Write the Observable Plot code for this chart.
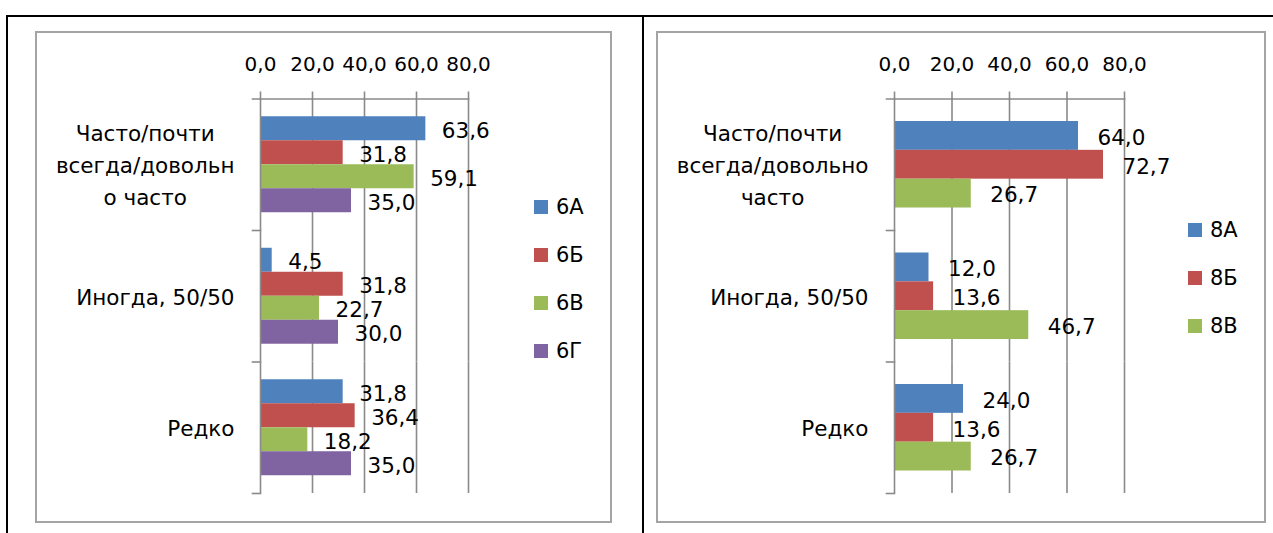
<!DOCTYPE html>
<html><head><meta charset="utf-8">
<script src="https://cdn.jsdelivr.net/npm/d3@7"></script>
<script src="https://cdn.jsdelivr.net/npm/@observablehq/plot@0.6"></script>
<style>
body{margin:0;background:#fff;width:1273px;height:533px;position:relative;overflow:hidden;font-family:"DejaVu Sans",sans-serif;}
.line{position:absolute;background:#000}
.box{position:absolute;box-sizing:border-box;border:2px solid #a4a4a4}
.chart{position:absolute}
.legend{position:absolute;font-size:21px;color:#000}
.legend .item{display:flex;align-items:center;height:48px}
.legend .sw{width:14px;height:14px;margin-right:8px;flex:none}
</style></head><body>
<script>
// ---- data ----
const categories = ["Часто/почти всегда/довольно часто", "Иногда, 50/50", "Редко"];
const categoryLabels6 = ["Часто/почти\nвсегда/довольн\nо часто", "Иногда, 50/50", "Редко"];
const categoryLabels8 = ["Часто/почти\nвсегда/довольно\nчасто", "Иногда, 50/50", "Редко"];
const xTicks = [0, 20, 40, 60, 80];

const series6 = ["6А", "6Б", "6В", "6Г"];
const values6A = [63.6, 4.5, 31.8];
const values6B = [31.8, 31.8, 36.4];
const values6V = [59.1, 22.7, 18.2];
const values6G = [35.0, 30.0, 35.0];
const colors6 = ["#4F81BD", "#C0504D", "#9BBB59", "#8064A2"];

const series8 = ["8А", "8Б", "8В"];
const values8A = [64.0, 12.0, 24.0];
const values8B = [72.7, 13.6, 13.6];
const values8V = [26.7, 46.7, 26.7];
const colors8 = ["#4F81BD", "#C0504D", "#9BBB59"];

// ---- layout helpers ----
function addDiv(cls, l, t, w, h, parent = document.body) {
  const d = document.createElement("div");
  d.className = cls;
  Object.assign(d.style, {left: l + "px", top: t + "px", width: w + "px", height: h + "px"});
  parent.appendChild(d);
  return d;
}
addDiv("line", 6, 15, 1267, 2);
addDiv("line", 6, 15, 2, 518);
addDiv("line", 642, 15, 2, 518);
addDiv("box", 35, 31, 577, 492);
addDiv("box", 656, 31, 610, 492);

const fmt = v => d3.format(".1f")(v).replace(".", ",");
const grid = "#8a8a8a";

function chart({series, values, labels, colors, width, height, marginLeft, marginRight, marginTop, marginBottom, paddingOuter, labelDx}) {
  const data = series.flatMap((s, i) => categories.map((c, j) => ({series: s, category: c, value: values[i][j]})));
  const labelOf = new Map(categories.map((c, j) => [c, labels[j]]));
  const frameW = width - marginLeft - marginRight;
  return Plot.plot({
    width, height, marginLeft, marginRight, marginTop, marginBottom,
    style: {fontFamily: '"DejaVu Sans", sans-serif', fontSize: "21px", color: "#000", background: "transparent", overflow: "visible"},
    x: {domain: [0, 80], axis: null},
    y: {domain: series, paddingInner: 0, paddingOuter, axis: null, round: false},
    fy: {domain: categories, padding: 0, axis: null, round: false},
    color: {domain: series, range: colors},
    marks: [
      Plot.ruleX(xTicks.filter(d => d > 0), {stroke: grid, strokeWidth: 1.6}),
      Plot.barX(data, {x: "value", y: "series", fy: "category", fill: "series"}),
      Plot.ruleX([0], {stroke: grid, strokeWidth: 1.6}),
      Plot.frame({anchor: "bottom", insetLeft: -8, insetRight: frameW, stroke: grid, strokeWidth: 1.6}),
      Plot.frame({anchor: "top", fy: categories[0], insetLeft: -8, stroke: grid, strokeWidth: 1.6}),
      Plot.axisX(xTicks, {anchor: "top", tickFormat: fmt, tickSize: 8, tickPadding: 20, stroke: grid, strokeWidth: 1.6, fill: "#000", label: null, fontSize: 20}),
      Plot.axisFy({anchor: "left", tickSize: 0, tickPadding: 26, tickFormat: d => labelOf.get(d), label: null, lineHeight: 1.49, fill: "#000", fontSize: 21.5, dy: -2}),
      Plot.text(data, {x: "value", y: "series", fy: "category", text: d => fmt(d.value), textAnchor: "start", dx: labelDx, dy: 2, fill: "#000", fontSize: 21.5})
    ]
  });
}

function place(svg, left, top) {
  const wrap = document.createElement("div");
  wrap.className = "chart";
  wrap.style.left = left + "px";
  wrap.style.top = top + "px";
  wrap.appendChild(svg);
  document.body.appendChild(wrap);
  // Excel-style wrapped category label: lines centred within a right-aligned block
  svg.querySelectorAll("text").forEach(t => {
    const spans = t.querySelectorAll("tspan");
    if (spans.length > 1) {
      const w = Math.max(...Array.from(spans, s => s.getComputedTextLength()));
      t.setAttribute("text-anchor", "middle");
      t.style.textAnchor = "middle";
      spans.forEach(s => s.setAttribute("x", -w / 2));
    }
  });
}

function legend(series, colors, left, top) {
  const d = document.createElement("div");
  d.className = "legend";
  d.style.left = left + "px";
  d.style.top = top + "px";
  series.forEach((s, i) => {
    const it = document.createElement("div");
    it.className = "item";
    const sw = document.createElement("span");
    sw.className = "sw";
    sw.style.background = colors[i];
    const lb = document.createElement("span");
    lb.textContent = s;
    it.append(sw, lb);
    d.appendChild(it);
  });
  document.body.appendChild(d);
}

place(chart({
  series: series6, values: [values6A, values6B, values6V, values6G], labels: categoryLabels6, colors: colors6,
  width: 575, height: 490, marginLeft: 224, marginRight: 143, marginTop: 66.5, marginBottom: 29,
  paddingOuter: 0.74, labelDx: 16
}), 36, 32);
legend(series6, colors6, 534, 183);

place(chart({
  series: series8, values: [values8A, values8B, values8V], labels: categoryLabels8, colors: colors8,
  width: 608, height: 490, marginLeft: 237, marginRight: 141, marginTop: 66.5, marginBottom: 29,
  paddingOuter: 0.78, labelDx: 19
}), 657, 32);
legend(series8, colors8, 1188, 206);
</script>
</body></html>
